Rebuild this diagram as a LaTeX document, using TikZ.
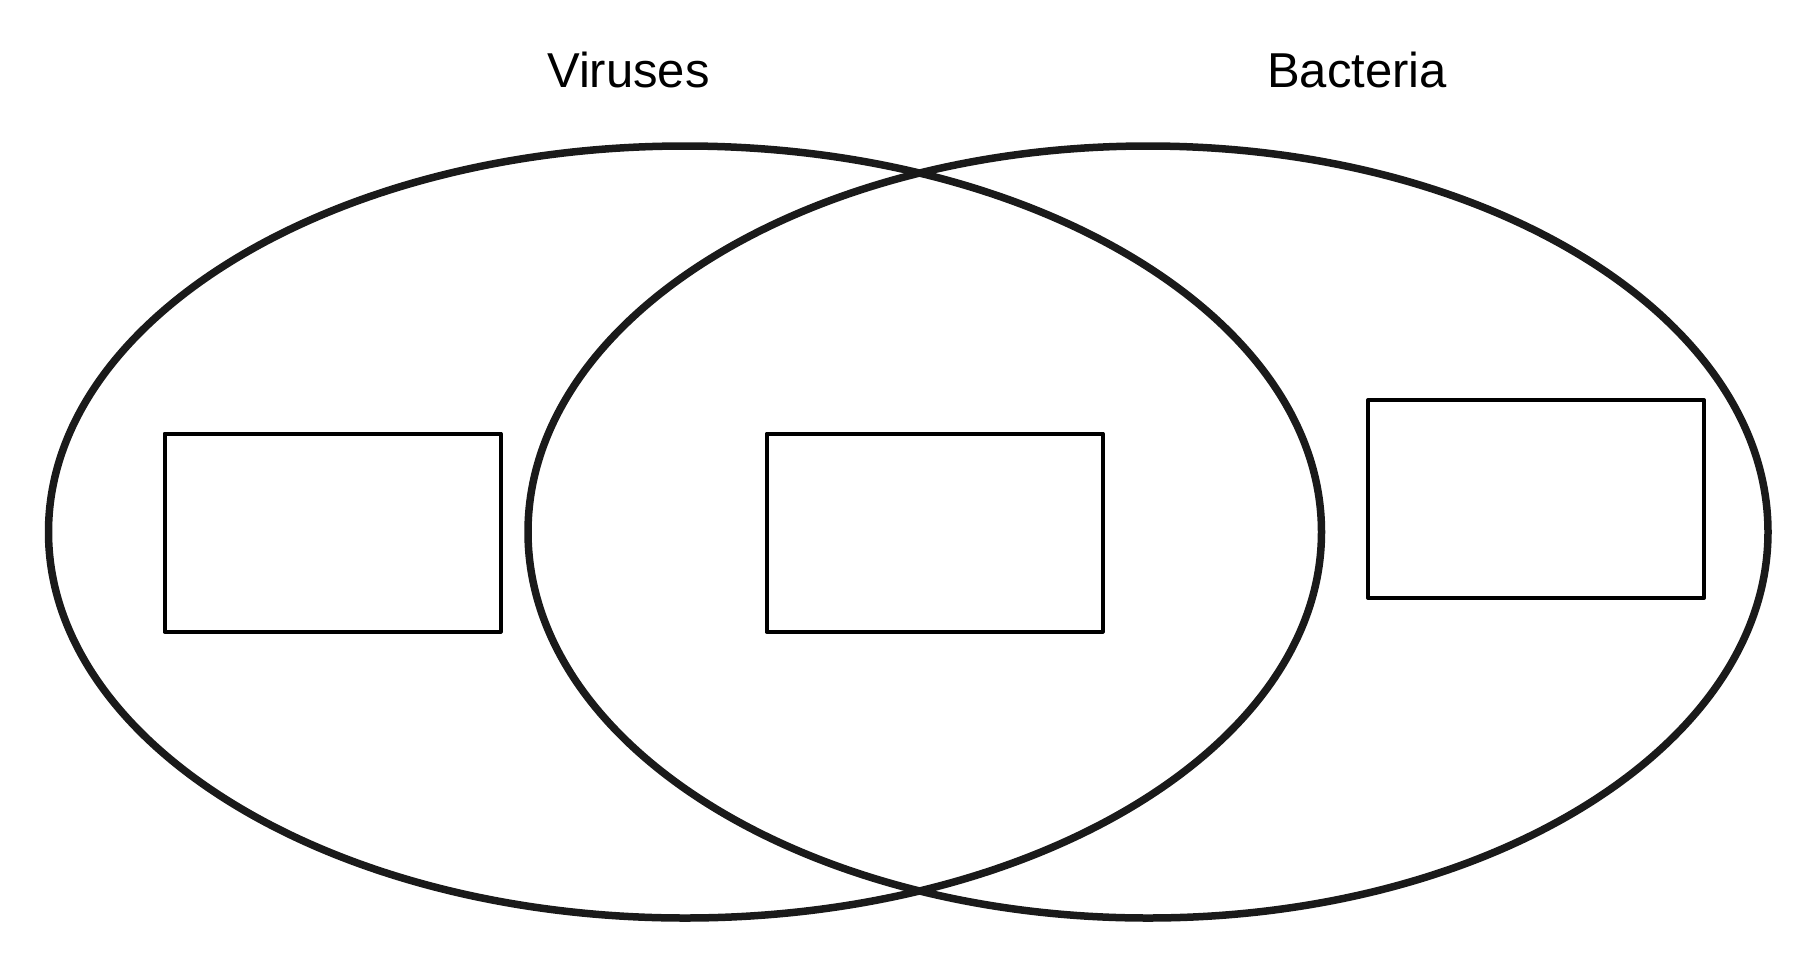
\documentclass[tikz,border=0pt]{standalone}
\usepackage{fontspec}
\setmainfont{Liberation Sans}
\definecolor{ink}{HTML}{1A1A1A}
\begin{document}
\begin{tikzpicture}[x=1pt,y=-1pt,
  ring/.style={draw=ink,line width=7.5pt},
  box/.style={draw=black,line width=4pt,line join=round,fill=none},
  lbl/.style={anchor=base,inner sep=0pt,font=\fontsize{49}{55}\selectfont}]
\useasboundingbox (0,0) rectangle (1818,978);
\draw[ring] (685,532) ellipse [x radius=636.5, y radius=386];
\draw[ring] (1148,532) ellipse [x radius=620, y radius=386];
\node[box,minimum width=336pt,minimum height=198pt,inner sep=0pt] (b1) at (332.5,532.5) {};
\node[box,minimum width=336pt,minimum height=198pt,inner sep=0pt] (b2) at (934.5,532.5) {};
\node[box,minimum width=336pt,minimum height=198pt,inner sep=0pt] (b3) at (1536,499) {};
\node[lbl] (v) at (628.5,87) {Viruses};
\node[lbl] (b) at (1357,87) {Bacteria};
\end{tikzpicture}
\end{document}
